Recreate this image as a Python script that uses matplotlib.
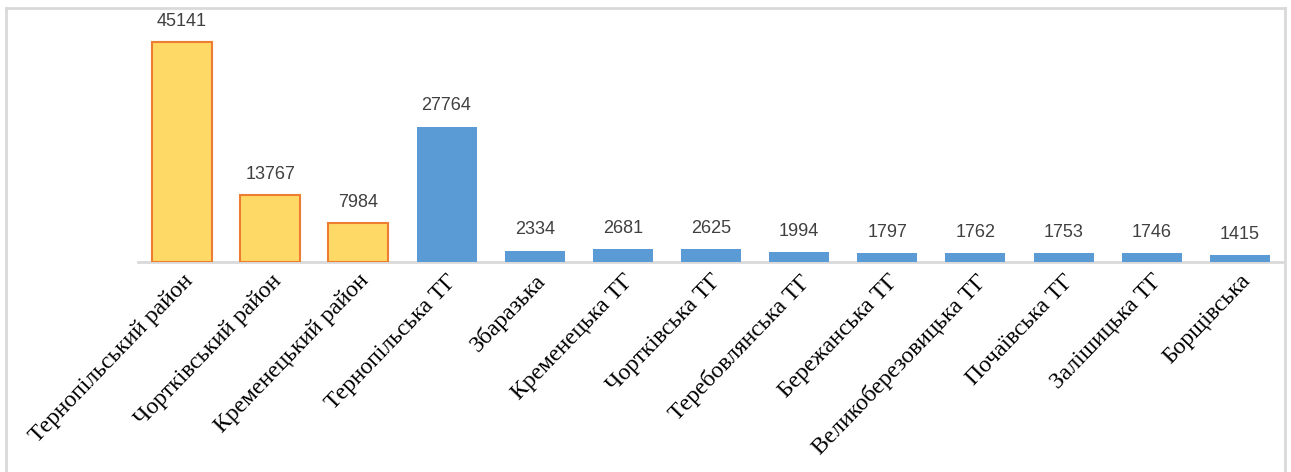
import matplotlib
matplotlib.use("Agg")
import matplotlib.pyplot as plt
from matplotlib.lines import Line2D

categories = ["Тернопільський район", "Чортківський район", "Кременецький район",
              "Тернопільська ТГ", "Збаразька", "Кременецька ТГ", "Чортківська ТГ",
              "Теребовлянська ТГ", "Бережанська ТГ", "Великоберезовицька ТГ",
              "Почаївська ТГ", "Залішицька ТГ", "Борщівська"]
values = [45141, 13767, 7984, 27764, 2334, 2681, 2625, 1994, 1797, 1762, 1753, 1746, 1415]
is_district = [True, True, True] + [False] * 10

W, H = 1291, 472
fig = plt.figure(figsize=(W / 100, H / 100), dpi=100)
ax = fig.add_axes([138 / W, (H - 262) / H, (1284 - 138) / W, (262 - 20) / H])

x = list(range(len(values)))
faces = ["#FFD966" if d else "#5B9BD5" for d in is_district]
edges = ["#ED7D31" if d else "#5B9BD5" for d in is_district]
lws = [1.5 if d else 0 for d in is_district]
ax.bar(x, values, width=0.68, color=faces, edgecolor=edges, linewidth=lws, zorder=3)

for xi, v in zip(x, values):
    ax.annotate(str(v), (xi, v), xytext=(0, 15), textcoords="offset points",
                ha="center", va="center", fontsize=13, color="#404040",
                family=["Liberation Sans", "DejaVu Sans"])

ax.set_xlim(-0.5, 12.5)
ax.set_ylim(0, 242 / (220 / 45141))
for s in ["left", "right", "top"]:
    ax.spines[s].set_visible(False)
ax.spines["bottom"].set_color("#D9D9D9")
ax.spines["bottom"].set_linewidth(2)
ax.set_yticks([])
ax.set_xticks(x)
ax.set_xticklabels(categories, rotation=46, ha="right", va="top", rotation_mode="anchor",
                   fontsize=17, family=["Liberation Serif", "DejaVu Serif"])
ax.tick_params(axis="x", length=0, pad=6)

# figure border
bc = "#D9D9D9"
fig.add_artist(Line2D([5.5 / W, 5.5 / W], [0, 1 - 8 / H], transform=fig.transFigure, color=bc, lw=2))
fig.add_artist(Line2D([1284.5 / W, 1284.5 / W], [0, 1 - 8 / H], transform=fig.transFigure, color=bc, lw=2))
fig.add_artist(Line2D([5.5 / W, 1284.5 / W], [1 - 8 / H, 1 - 8 / H], transform=fig.transFigure, color=bc, lw=2))

fig.savefig("out.png", dpi=100)
